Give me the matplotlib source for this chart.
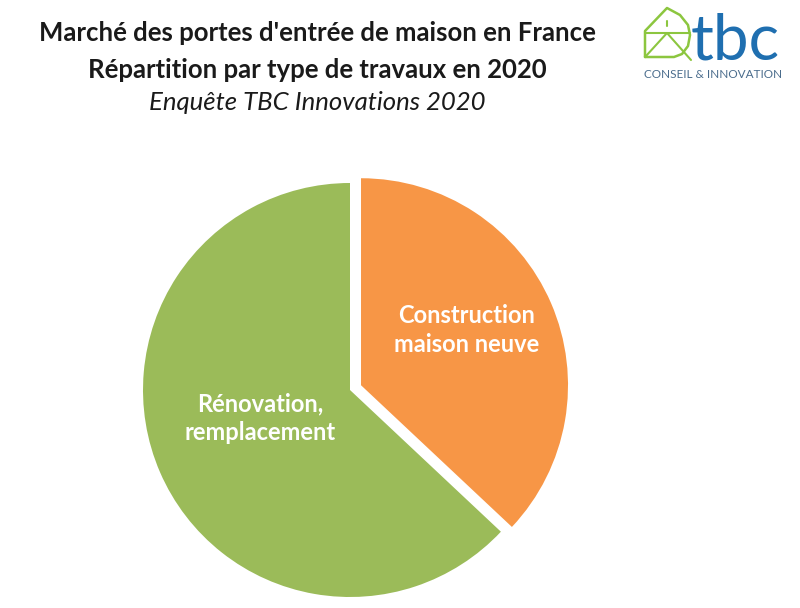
import matplotlib
matplotlib.use("Agg")
import matplotlib.pyplot as plt
from matplotlib.lines import Line2D

# Data
categories = ["Construction\nmaison neuve", "Rénovation,\nremplacement"]
shares = [37, 63]
colors = ["#F79646", "#9BBB59"]
title_lines = ["Marché des portes d'entrée de maison en France",
               "Répartition par type de travaux en 2020"]
subtitle = "Enquête TBC Innovations 2020"

W, H = 800, 608
fig = plt.figure(figsize=(W / 100, H / 100), dpi=100)
fig.patch.set_facecolor("white")
ax = fig.add_axes([0, 0, 1, 1])

FONT = "Lato"

wedges, texts = ax.pie(shares, colors=colors, startangle=90, counterclock=False,
                       center=(350, H - 390), radius=207, explode=[12, 0],
                       labels=categories, labeldistance=0.58,
                       textprops=dict(color="white", fontsize=17, fontweight="bold",
                                      family=FONT, ha="center", va="center",
                                      linespacing=1.3),
                       wedgeprops=dict(linewidth=0), frame=True)
ax.set_xlim(0, W)
ax.set_ylim(0, H)
ax.set_aspect("equal")
ax.axis("off")
texts[0].set_position((467, H - 330))
texts[1].set_position((260, H - 418))

# Titles
fig.text(0.397, 1 - 33 / H, title_lines[0], ha="center", va="center",
         fontsize=18.5, fontweight="bold", family=FONT, color="#1a1a1a")
fig.text(0.397, 1 - 70 / H, title_lines[1], ha="center", va="center",
         fontsize=18.5, fontweight="bold", family=FONT, color="#1a1a1a")
fig.text(0.397, 1 - 103 / H, subtitle, ha="center", va="center",
         fontsize=18.5, fontstyle="italic", family=FONT, color="#1a1a1a")

# Logo
green = "#8CC63F"
blue = "#1F6FB0"
def px(x, y):
    return x / W, 1 - y / H
def line(pts, lw=1.5):
    xs, ys = zip(*[px(x, y) for x, y in pts])
    fig.add_artist(Line2D(xs, ys, color=green, lw=lw, transform=fig.transFigure,
                          solid_joinstyle="round", solid_capstyle="round"))
line([(645, 57), (645, 31), (667, 8), (680, 15), (688, 25), (690, 35),
      (688, 46), (682, 54), (674, 57), (645, 57)], 1.8)
line([(645, 33), (690, 33)], 1.5)
line([(646, 56), (667, 33), (691, 60)], 1.5)
line([(667, 21), (667, 26)], 1.5)
fig.text(*px(735, 59), "tbc", ha="center", va="baseline", fontsize=46,
         family=FONT, color=blue)
fig.text(*px(713, 74), "CONSEIL & INNOVATION", ha="center", va="center",
         fontsize=8.5, family=FONT, color="#4A6C8C")

fig.savefig("out.png", dpi=100, facecolor="white")
